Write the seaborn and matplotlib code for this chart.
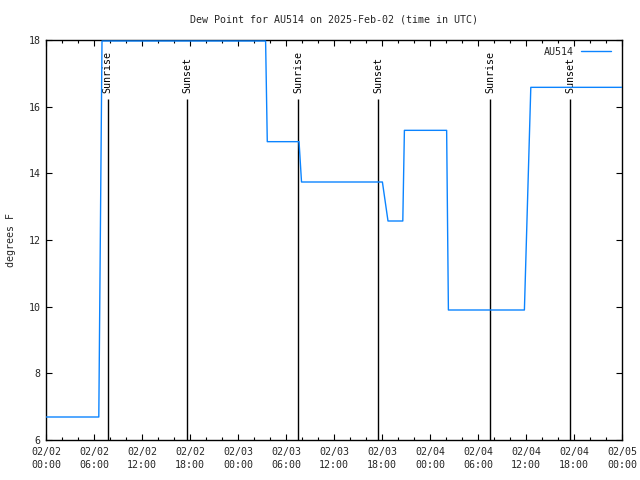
import matplotlib
matplotlib.use('Agg')
import numpy as np
import pandas as pd
import seaborn as sns
import matplotlib.pyplot as plt
from matplotlib.ticker import MultipleLocator

# ---- data (hours since 2025-02-02 00:00 UTC) ----
hours = [0, 6.6, 7.0, 27.45, 27.66, 31.63, 31.94, 42.05, 42.75, 44.6, 44.8,
         50.08, 50.3, 59.8, 60.6, 72]
dewpoint = [6.69, 6.69, 17.97, 17.97, 14.95, 14.95, 13.74, 13.74, 12.57, 12.57,
            15.29, 15.29, 9.9, 9.9, 16.58, 16.58]

event_names = ['Sunrise', 'Sunset', 'Sunrise', 'Sunset', 'Sunrise', 'Sunset']
event_hours = [7.71, 17.63, 31.54, 41.54, 55.54, 65.54]

xtick_hours = [0, 6, 12, 18, 24, 30, 36, 42, 48, 54, 60, 66, 72]
xtick_labels = ['02/02\n00:00', '02/02\n06:00', '02/02\n12:00', '02/02\n18:00',
                '02/03\n00:00', '02/03\n06:00', '02/03\n12:00', '02/03\n18:00',
                '02/04\n00:00', '02/04\n06:00', '02/04\n12:00', '02/04\n18:00',
                '02/05\n00:00']
ytick_values = [6, 8, 10, 12, 14, 16, 18]

series_name = 'AU514'
title = 'Dew Point for AU514 on 2025-Feb-02 (time in UTC)'
ylabel = 'degrees F'

# ---- style ----
sns.set_style('white')
plt.rcParams['font.family'] = ['DejaVu Sans Mono']
FS = 7.2
LINE_COLOR = '#0b84ff'

df = pd.DataFrame({'hour': hours, 'dewpoint': dewpoint, 'station': series_name})

fig = plt.figure(figsize=(6.4, 4.8), dpi=100)
ax = fig.add_axes([46 / 640, 40 / 480, 576 / 640, 400 / 480])

# sunrise/sunset markers
ax.vlines(event_hours, 6, 16.23, color='black', lw=1.0, zorder=2)
for h, name in zip(event_hours, event_names):
    ax.text(h, 16.42, name, rotation=90, ha='center', va='bottom',
            fontsize=FS, color='black')

sns.lineplot(data=df, x='hour', y='dewpoint', hue='station',
             palette=[LINE_COLOR], ax=ax, lw=1.0, zorder=3)

ax.set_xlim(0, 72)
ax.set_ylim(6, 18)
ax.set_xticks(xtick_hours)
ax.set_xticklabels(xtick_labels, fontsize=FS, linespacing=1.35)
ax.xaxis.set_minor_locator(MultipleLocator(2))
ax.set_yticks(ytick_values)
ax.set_yticklabels([str(v) for v in ytick_values], fontsize=FS)

ax.tick_params(which='both', direction='in', top=True, right=True,
               bottom=True, left=True, color='black', width=0.8)
ax.tick_params(which='major', length=4, pad=5)
ax.tick_params(axis='y', which='major', length=4, pad=4)
ax.tick_params(which='minor', length=2.5)

for s in ax.spines.values():
    s.set_color('black')
    s.set_linewidth(1.0)

ax.set_xlabel('')
ax.set_ylabel(ylabel, fontsize=FS, labelpad=9)

leg = ax.legend(loc='upper right', frameon=False, markerfirst=False,
                fontsize=FS, handlelength=3.0, handletextpad=0.7,
                borderaxespad=0.3, bbox_to_anchor=(0.993, 1.0))

fig.text(334 / 640, 1 - 19 / 480, title, ha='center', va='center', fontsize=FS)

fig.savefig('out.png', dpi=100, facecolor='white')
